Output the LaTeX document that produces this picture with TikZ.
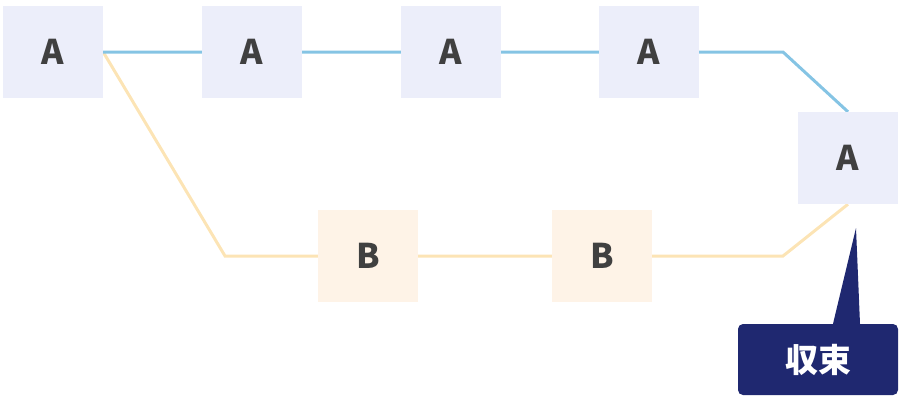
\documentclass[tikz,border=0pt]{standalone}
\usepackage{fontspec}
\setmainfont{Noto Sans CJK JP}
\usetikzlibrary{backgrounds}
\definecolor{lineA}{HTML}{85C4E4}
\definecolor{lineB}{HTML}{FCE4B5}
\definecolor{fillA}{HTML}{ECEEFA}
\definecolor{fillB}{HTML}{FEF3E7}
\definecolor{txt}{HTML}{404040}
\definecolor{navy}{HTML}{1F2870}
\tikzset{
  boxA/.style={fill=fillA, minimum width=100pt, minimum height=92pt, inner sep=0pt,
    text=txt, font=\bfseries\fontsize{34}{34}\selectfont},
  boxB/.style={boxA, fill=fillB},
  pathA/.style={draw=lineA, line width=3pt},
  pathB/.style={draw=lineB, line width=3pt},
}
\begin{document}
\begin{tikzpicture}[x=1pt,y=-1pt]
      % Fix the page size
      \useasboundingbox (0,0) rectangle (900,400);

      % Upper row (A)
      \node[boxA] (a1) at (53,52) {A};
      \node[boxA] (a2) at (252,52) {A};
      \node[boxA] (a3) at (451,52) {A};
      \node[boxA] (a4) at (649,52) {A};
      \node[boxA] (a5) at (848,158) {A};

      % Lower row (B)
      \node[boxB] (b1) at (368,256) {B};
      \node[boxB] (b2) at (602,256) {B};

      % Bends of the two paths
      \coordinate (abend) at (783,52);
      \coordinate (bbend1) at (225,256);
      \coordinate (bbend2) at (783,256);

      % The two paths, behind the boxes
      \begin{pgfonlayer}{background}
        \draw[pathB] (a1.east) -- (bbend1) -- (b2.east) -- (bbend2) -- (a5.south);
        \draw[pathA] (a1.east) -- (a4.east) -- (abend) -- (a5.north);
      \end{pgfonlayer}

      % Label with its pointer
      \node[fill=navy, rounded corners=5pt, minimum width=160pt, minimum height=71pt,
        text=white, font=\bfseries\fontsize{33}{33}\selectfont] (conv) at (818,359.5) {収束};
      \coordinate (tip) at (856,228);
      \fill[navy] (tip) -- (conv.north -| 860,0) -- (conv.north -| 833,0) -- cycle;
  \end{tikzpicture}
\end{document}
